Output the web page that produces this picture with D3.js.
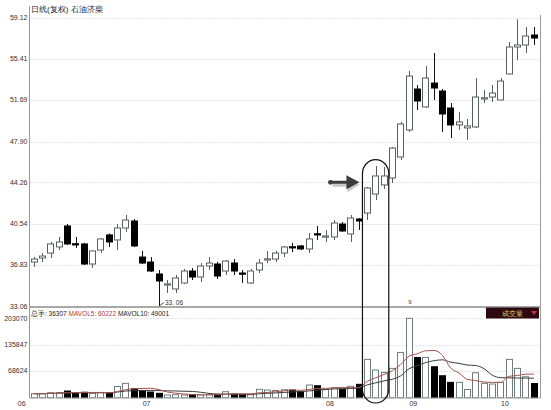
<!DOCTYPE html>
<html>
<head>
<meta charset="utf-8">
<script src="https://cdnjs.cloudflare.com/ajax/libs/d3/7.8.5/d3.min.js"></script>
<style>
  body { margin: 0; background: #fff; }
  text { font-family: "Liberation Sans", Arial, sans-serif; }
</style>
</head>
<body>
<div id="chart"></div>
<script>
// daily candles, one entry per trading day
var opens = [37.07, 37.43, 37.88, 38.43, 40.32, 38.72, 38.70, 36.89, 38.15, 39.51, 39.06, 40.14, 40.77, 37.52, 37.07, 35.99, 35.07, 34.64, 35.18, 36.26, 35.72, 36.71, 36.89, 36.26, 36.98, 36.08, 35.18, 36.35, 37.33, 37.34, 37.88, 38.45, 38.52, 38.25, 39.62, 39.37, 39.33, 40.50, 39.60, 40.95, 41.49, 43.20, 44.02, 44.65, 46.54, 48.98, 52.67, 51.05, 53.21, 52.49, 50.96, 49.43, 49.16, 49.25, 51.84, 51.95, 51.68, 54.03, 56.46, 56.64, 57.54];
var closes = [37.34, 37.61, 38.70, 38.88, 38.70, 38.66, 36.89, 38.07, 39.15, 38.88, 40.14, 40.86, 38.52, 36.98, 36.26, 35.36, 35.10, 35.63, 36.26, 35.72, 36.71, 36.98, 35.81, 37.16, 36.26, 36.02, 36.26, 36.98, 37.36, 37.88, 38.43, 38.40, 38.25, 39.15, 39.56, 39.42, 40.59, 39.87, 41.04, 40.77, 43.75, 44.83, 44.83, 47.35, 49.52, 53.84, 51.59, 53.66, 52.76, 50.42, 49.43, 49.70, 49.34, 51.95, 51.88, 52.31, 53.39, 56.46, 56.64, 57.45, 57.27];
var highs = [37.52, 37.88, 38.88, 39.33, 40.50, 39.33, 38.80, 38.10, 39.24, 39.65, 40.50, 41.31, 40.95, 38.07, 37.52, 36.35, 35.45, 35.90, 36.44, 36.53, 36.98, 37.52, 37.07, 37.25, 37.34, 36.35, 36.44, 37.34, 38.07, 38.07, 38.52, 38.79, 38.60, 39.69, 40.32, 39.96, 40.86, 40.68, 41.31, 41.04, 43.84, 45.73, 45.64, 47.44, 49.70, 54.30, 53.03, 54.75, 55.92, 52.67, 51.41, 50.60, 49.97, 53.66, 52.58, 53.03, 53.66, 56.91, 58.95, 58.26, 58.26];
var lows = [36.62, 37.07, 37.43, 38.15, 38.61, 38.34, 36.80, 36.53, 37.88, 38.43, 38.15, 39.78, 38.43, 36.89, 36.17, 33.06, 34.28, 34.28, 35.10, 35.45, 35.27, 36.35, 35.54, 35.90, 35.90, 35.18, 35.10, 36.08, 36.98, 37.07, 37.52, 37.97, 38.15, 37.88, 39.06, 38.88, 39.06, 39.78, 38.88, 39.96, 40.86, 42.66, 43.66, 44.20, 46.27, 48.80, 50.78, 50.96, 51.68, 48.80, 48.25, 48.98, 48.07, 49.16, 51.41, 51.50, 51.68, 54.00, 55.29, 55.92, 56.64];
var volumes = [10200, 10200, 12750, 12750, 17100, 12000, 13800, 11200, 13300, 12000, 28600, 36700, 22700, 17900, 14500, 11200, 6900, 7650, 6900, 7650, 6900, 7650, 7650, 15300, 9400, 8700, 7650, 21400, 19600, 18400, 20400, 19600, 15300, 32400, 30600, 21400, 25500, 22200, 29100, 34200, 98000, 70700, 64800, 75000, 115800, 203070, 103000, 103000, 79100, 56100, 39300, 39300, 21000, 63800, 36700, 35000, 39300, 98000, 75000, 53600, 36307];

var priceTicks = [59.12, 55.41, 51.69, 47.90, 44.26, 40.54, 36.83, 33.06];
var volTicks = [203070, 135847, 68624];
var monthLabels = ["06", "07", "08", "09", "10"];
var monthStarts = [-1, 14, 36, 46, 57];

var title = "日线(复权)  石油济柴";
var volHeader = ["总手: 36307", "MAVOL5: 60222", "MAVOL10: 49001"];
var lowLabel = "33. 06";
var lowIndex = 15;

var width = 551, height = 410;
var left = 29.5, right = 540.5;

var svg = d3.select("#chart").append("svg")
    .attr("width", width)
    .attr("height", height);

var n = opens.length;
var x = d3.scaleBand()
    .domain(d3.range(n))
    .range([29.8, 538.1])
    .paddingInner(0.2)
    .paddingOuter(0.1);
var cx = function (i) { return x(i) + x.bandwidth() / 2; };

var y = d3.scaleLinear().domain([33.06, 59.12]).range([306.5, 17.5]);
var yv = d3.scaleLinear().domain([0, 203070]).range([397.7, 318.3]);

// grid lines
svg.selectAll(".pgrid")
    .data(priceTicks.slice(0, 7))
    .join("line")
    .attr("class", "pgrid")
    .attr("x1", left).attr("x2", right)
    .attr("y1", d => Math.round(y(d)) + 0.5)
    .attr("y2", d => Math.round(y(d)) + 0.5)
    .attr("stroke", "#e4e4e4")
    .attr("stroke-dasharray", "2,1");

svg.selectAll(".vgrid")
    .data(volTicks)
    .join("line")
    .attr("class", "vgrid")
    .attr("x1", left).attr("x2", right)
    .attr("y1", d => Math.round(yv(d)) + 0.5)
    .attr("y2", d => Math.round(yv(d)) + 0.5)
    .attr("stroke", "#e4e4e4")
    .attr("stroke-dasharray", "2,1");

// candles
var candles = d3.range(n).map(function (i) {
    return { i: i, o: opens[i], c: closes[i], h: highs[i], l: lows[i], v: volumes[i] };
});

svg.selectAll(".wick")
    .data(candles)
    .join("line")
    .attr("class", "wick")
    .attr("x1", d => Math.round(cx(d.i)) + 0.5)
    .attr("x2", d => Math.round(cx(d.i)) + 0.5)
    .attr("y1", d => y(d.h))
    .attr("y2", d => y(d.l))
    .attr("stroke", d => d.c >= d.o ? "#56605f" : "#111");

svg.selectAll(".body")
    .data(candles)
    .join("rect")
    .attr("class", "body")
    .attr("x", d => Math.round(x(d.i)) + 0.5)
    .attr("width", Math.round(x.bandwidth()) - 1)
    .attr("y", d => y(Math.max(d.o, d.c)))
    .attr("height", d => Math.max(1.2, Math.abs(y(d.o) - y(d.c))))
    .attr("fill", d => d.c >= d.o ? "#fff" : "#000")
    .attr("stroke", d => d.c >= d.o ? "#56605f" : "#000")
    .attr("stroke-width", 1);

// volume bars
svg.selectAll(".vol")
    .data(candles)
    .join("rect")
    .attr("class", "vol")
    .attr("x", d => Math.round(x(d.i)) + 0.5)
    .attr("width", Math.round(x.bandwidth()) - 1)
    .attr("y", d => yv(d.v))
    .attr("height", d => yv(0) - yv(d.v))
    .attr("fill", d => d.c >= d.o ? "#fff" : "#000")
    .attr("stroke", d => d.c >= d.o ? "#6f7c7c" : "#000");

// volume moving averages
function movingAvg(vals, k) {
    return vals.map(function (v, i) {
        var part = vals.slice(Math.max(0, i - k + 1), i + 1);
        return d3.mean(part);
    });
}
var ma5 = movingAvg(volumes, 5);
var ma10 = movingAvg(volumes, 10);
var maLine = d3.line()
    .x((d, i) => cx(i))
    .y(d => yv(d))
    .curve(d3.curveMonotoneX);

svg.append("path").attr("d", maLine(ma10))
    .attr("fill", "none").attr("stroke", "#3c3c3c").attr("stroke-width", 1);
svg.append("path").attr("d", maLine(ma5))
    .attr("fill", "none").attr("stroke", "#a4524e").attr("stroke-width", 1);

// frame
svg.append("line").attr("x1", left).attr("x2", left).attr("y1", 6).attr("y2", 398)
    .attr("stroke", "#9a9a9a");
svg.append("line").attr("x1", right).attr("x2", right).attr("y1", 15).attr("y2", 398)
    .attr("stroke", "#9a9a9a");
svg.append("line").attr("x1", left).attr("x2", right).attr("y1", 307).attr("y2", 307)
    .attr("stroke", "#a8a8a8").attr("stroke-width", 2);
svg.append("line").attr("x1", left).attr("x2", right).attr("y1", 398).attr("y2", 398)
    .attr("stroke", "#a8a8a8").attr("stroke-width", 1);

// axis labels
svg.selectAll(".plabel")
    .data(priceTicks)
    .join("text")
    .attr("class", "plabel")
    .attr("x", 27.5)
    .attr("y", d => y(d) + 2.5)
    .attr("text-anchor", "end")
    .attr("font-size", 7)
    .attr("fill", "#333")
    .text(d => d.toFixed(2));

svg.selectAll(".vlabel")
    .data(volTicks)
    .join("text")
    .attr("class", "vlabel")
    .attr("x", 27.5)
    .attr("y", d => yv(d) + 2.5)
    .attr("text-anchor", "end")
    .attr("font-size", 7)
    .attr("fill", "#333")
    .text(d => d);

svg.selectAll(".mlabel")
    .data(monthLabels)
    .join("text")
    .attr("class", "mlabel")
    .attr("x", (d, i) => cx(0) + (monthStarts[i]) * x.step() - 4)
    .attr("y", 406)
    .attr("text-anchor", "middle")
    .attr("font-size", 7)
    .attr("fill", "#333")
    .text(d => d);

// headers
svg.append("text").attr("x", 31).attr("y", 12)
    .attr("font-size", 8)
    .attr("font-family", "'Noto Sans CJK SC', sans-serif")
    .attr("fill", "#222")
    .text(title);

var hdr = svg.append("text").attr("x", 31).attr("y", 316)
    .attr("font-size", 6.5)
    .attr("font-family", "'Noto Sans CJK SC', 'Liberation Sans', sans-serif");
hdr.append("tspan").attr("fill", "#222").text(volHeader[0] + " ");
hdr.append("tspan").attr("fill", "#b03a3a").text(volHeader[1] + " ");
hdr.append("tspan").attr("fill", "#222").text(volHeader[2]);

// volume indicator tag
svg.append("rect").attr("x", 486).attr("y", 307.5).attr("width", 53).attr("height", 11)
    .attr("fill", "#2e0a10");
svg.append("text").attr("x", 512).attr("y", 316)
    .attr("text-anchor", "middle")
    .attr("font-size", 7)
    .attr("font-family", "'Noto Sans CJK SC', sans-serif")
    .attr("fill", "#e6d56a")
    .text("成交量");
svg.append("path").attr("d", "M531,311 L537,311 L534,315 Z").attr("fill", "#d8284a");

// low marker
var lx = cx(lowIndex), ly = y(lows[lowIndex]);
svg.append("line").attr("x1", lx + 1).attr("y1", ly - 1).attr("x2", lx + 5).attr("y2", ly - 4)
    .attr("stroke", "#555");
svg.append("text").attr("x", lx + 6).attr("y", ly - 2)
    .attr("font-size", 6.5).attr("fill", "#333").text(lowLabel);

svg.append("text").attr("x", 410).attr("y", 304)
    .attr("font-size", 6).attr("fill", "#444").attr("text-anchor", "middle").text("9");

// annotation: capsule around the breakout candles and arrow
var capL = x(40) - 1.5, capR = x(42) + x.bandwidth() + 1.5;
svg.append("rect")
    .attr("x", capL).attr("y", y(46.3))
    .attr("width", capR - capL).attr("height", 403 - y(46.3))
    .attr("rx", (capR - capL) / 2).attr("ry", 14)
    .attr("fill", "none").attr("stroke", "#111").attr("stroke-width", 1.2);

var ay = y(44.26);
var arrow = svg.append("g");
arrow.append("path")
    .attr("d", "M" + (capL - 30) + "," + (ay + 1) + " L" + (capL - 15) + "," + (ay + 1)
        + " L" + (capL - 15) + "," + (ay - 5) + " L" + (capL - 3) + "," + (ay + 2.5)
        + " L" + (capL - 15) + "," + (ay + 10) + " L" + (capL - 15) + "," + (ay + 4.5)
        + " L" + (capL - 30) + "," + (ay + 4.5) + " Z")
    .attr("fill", "#c8c8c8");
arrow.append("path")
    .attr("d", "M" + (capL - 32) + "," + (ay - 1.5) + " L" + (capL - 16) + "," + (ay - 1.5)
        + " L" + (capL - 16) + "," + (ay - 7) + " L" + (capL - 3) + "," + ay
        + " L" + (capL - 16) + "," + (ay + 7) + " L" + (capL - 16) + "," + (ay + 1.5)
        + " L" + (capL - 32) + "," + (ay + 1.5) + " Z")
    .attr("fill", "#3c3c3c");
arrow.append("circle").attr("cx", capL - 32).attr("cy", ay).attr("r", 2.4).attr("fill", "#3c3c3c");
</script>
</body>
</html>
